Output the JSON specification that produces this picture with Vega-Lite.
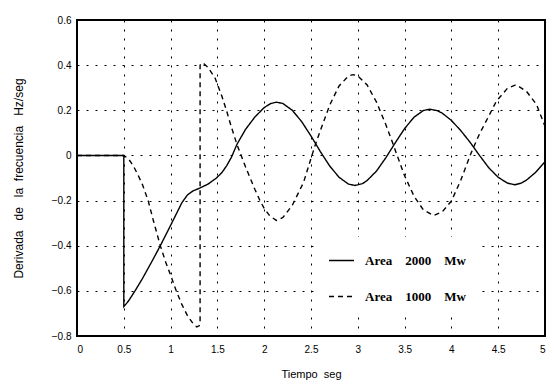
{
  "$schema": "https://vega.github.io/schema/vega-lite/v6.json",
  "width": 468,
  "height": 316,
  "autosize": {"type": "none"},
  "padding": {"left": 77, "top": 20, "right": 9, "bottom": 51},
  "background": "white",
  "config": {
    "view": {"stroke": "black", "strokeWidth": 2},
    "axis": {
      "domain": false,
      "ticks": false,
      "grid": true,
      "gridColor": "black",
      "gridOpacity": 1,
      "gridDash": [2, 7],
      "labelFont": "Liberation Sans",
      "labelFontSize": 10,
      "labelColor": "black",
      "titleFont": "Liberation Sans",
      "titleFontSize": 11,
      "titleFontWeight": "normal",
      "titleColor": "black"
    }
  },
  "datasets": {
    "curves": [
      {"s": "Area 2000 Mw", "i": 0, "x": 0, "y": 0},
      {"s": "Area 2000 Mw", "i": 1, "x": 0.5, "y": 0},
      {"s": "Area 2000 Mw", "i": 2, "x": 0.5, "y": -0.67},
      {"s": "Area 2000 Mw", "i": 3, "x": 0.55, "y": -0.645},
      {"s": "Area 2000 Mw", "i": 4, "x": 0.62, "y": -0.6},
      {"s": "Area 2000 Mw", "i": 5, "x": 0.7, "y": -0.545},
      {"s": "Area 2000 Mw", "i": 6, "x": 0.8, "y": -0.47},
      {"s": "Area 2000 Mw", "i": 7, "x": 0.89, "y": -0.4},
      {"s": "Area 2000 Mw", "i": 8, "x": 1.0, "y": -0.31},
      {"s": "Area 2000 Mw", "i": 9, "x": 1.06, "y": -0.26},
      {"s": "Area 2000 Mw", "i": 10, "x": 1.12, "y": -0.21},
      {"s": "Area 2000 Mw", "i": 11, "x": 1.18, "y": -0.175},
      {"s": "Area 2000 Mw", "i": 12, "x": 1.24, "y": -0.157},
      {"s": "Area 2000 Mw", "i": 13, "x": 1.31, "y": -0.145},
      {"s": "Area 2000 Mw", "i": 14, "x": 1.4, "y": -0.127},
      {"s": "Area 2000 Mw", "i": 15, "x": 1.49, "y": -0.1},
      {"s": "Area 2000 Mw", "i": 16, "x": 1.55, "y": -0.075},
      {"s": "Area 2000 Mw", "i": 17, "x": 1.6, "y": -0.045},
      {"s": "Area 2000 Mw", "i": 18, "x": 1.65, "y": -0.008},
      {"s": "Area 2000 Mw", "i": 19, "x": 1.71, "y": 0.05},
      {"s": "Area 2000 Mw", "i": 20, "x": 1.8, "y": 0.115},
      {"s": "Area 2000 Mw", "i": 21, "x": 1.9, "y": 0.17},
      {"s": "Area 2000 Mw", "i": 22, "x": 2.0, "y": 0.212},
      {"s": "Area 2000 Mw", "i": 23, "x": 2.07, "y": 0.23},
      {"s": "Area 2000 Mw", "i": 24, "x": 2.13, "y": 0.236},
      {"s": "Area 2000 Mw", "i": 25, "x": 2.2, "y": 0.23},
      {"s": "Area 2000 Mw", "i": 26, "x": 2.3, "y": 0.2},
      {"s": "Area 2000 Mw", "i": 27, "x": 2.4, "y": 0.15},
      {"s": "Area 2000 Mw", "i": 28, "x": 2.5, "y": 0.086},
      {"s": "Area 2000 Mw", "i": 29, "x": 2.6, "y": 0.017},
      {"s": "Area 2000 Mw", "i": 30, "x": 2.7, "y": -0.047},
      {"s": "Area 2000 Mw", "i": 31, "x": 2.8, "y": -0.097},
      {"s": "Area 2000 Mw", "i": 32, "x": 2.9, "y": -0.127},
      {"s": "Area 2000 Mw", "i": 33, "x": 2.97, "y": -0.133},
      {"s": "Area 2000 Mw", "i": 34, "x": 3.05, "y": -0.125},
      {"s": "Area 2000 Mw", "i": 35, "x": 3.1, "y": -0.111},
      {"s": "Area 2000 Mw", "i": 36, "x": 3.2, "y": -0.069},
      {"s": "Area 2000 Mw", "i": 37, "x": 3.3, "y": -0.01},
      {"s": "Area 2000 Mw", "i": 38, "x": 3.4, "y": 0.056},
      {"s": "Area 2000 Mw", "i": 39, "x": 3.5, "y": 0.119},
      {"s": "Area 2000 Mw", "i": 40, "x": 3.6, "y": 0.169},
      {"s": "Area 2000 Mw", "i": 41, "x": 3.7, "y": 0.199},
      {"s": "Area 2000 Mw", "i": 42, "x": 3.77, "y": 0.205},
      {"s": "Area 2000 Mw", "i": 43, "x": 3.85, "y": 0.198},
      {"s": "Area 2000 Mw", "i": 44, "x": 3.9, "y": 0.188},
      {"s": "Area 2000 Mw", "i": 45, "x": 4.0, "y": 0.155},
      {"s": "Area 2000 Mw", "i": 46, "x": 4.1, "y": 0.11},
      {"s": "Area 2000 Mw", "i": 47, "x": 4.2, "y": 0.058},
      {"s": "Area 2000 Mw", "i": 48, "x": 4.3, "y": 0.0},
      {"s": "Area 2000 Mw", "i": 49, "x": 4.4, "y": -0.055},
      {"s": "Area 2000 Mw", "i": 50, "x": 4.5, "y": -0.097},
      {"s": "Area 2000 Mw", "i": 51, "x": 4.6, "y": -0.123},
      {"s": "Area 2000 Mw", "i": 52, "x": 4.68, "y": -0.13},
      {"s": "Area 2000 Mw", "i": 53, "x": 4.75, "y": -0.122},
      {"s": "Area 2000 Mw", "i": 54, "x": 4.8, "y": -0.11},
      {"s": "Area 2000 Mw", "i": 55, "x": 4.9, "y": -0.075},
      {"s": "Area 2000 Mw", "i": 56, "x": 5.0, "y": -0.028},
      {"s": "Area 1000 Mw", "i": 0, "x": 0, "y": 0},
      {"s": "Area 1000 Mw", "i": 1, "x": 0.5, "y": 0},
      {"s": "Area 1000 Mw", "i": 2, "x": 0.55, "y": -0.015},
      {"s": "Area 1000 Mw", "i": 3, "x": 0.6, "y": -0.045},
      {"s": "Area 1000 Mw", "i": 4, "x": 0.65, "y": -0.085},
      {"s": "Area 1000 Mw", "i": 5, "x": 0.7, "y": -0.13},
      {"s": "Area 1000 Mw", "i": 6, "x": 0.76, "y": -0.2},
      {"s": "Area 1000 Mw", "i": 7, "x": 0.82, "y": -0.295},
      {"s": "Area 1000 Mw", "i": 8, "x": 0.89, "y": -0.4},
      {"s": "Area 1000 Mw", "i": 9, "x": 0.95, "y": -0.475},
      {"s": "Area 1000 Mw", "i": 10, "x": 1.0, "y": -0.53},
      {"s": "Area 1000 Mw", "i": 11, "x": 1.06, "y": -0.6},
      {"s": "Area 1000 Mw", "i": 12, "x": 1.12, "y": -0.66},
      {"s": "Area 1000 Mw", "i": 13, "x": 1.18, "y": -0.71},
      {"s": "Area 1000 Mw", "i": 14, "x": 1.24, "y": -0.745},
      {"s": "Area 1000 Mw", "i": 15, "x": 1.28, "y": -0.76},
      {"s": "Area 1000 Mw", "i": 16, "x": 1.305, "y": -0.755},
      {"s": "Area 1000 Mw", "i": 17, "x": 1.315, "y": -0.74},
      {"s": "Area 1000 Mw", "i": 18, "x": 1.315, "y": 0.4},
      {"s": "Area 1000 Mw", "i": 19, "x": 1.33, "y": 0.41},
      {"s": "Area 1000 Mw", "i": 20, "x": 1.36, "y": 0.405},
      {"s": "Area 1000 Mw", "i": 21, "x": 1.4, "y": 0.39},
      {"s": "Area 1000 Mw", "i": 22, "x": 1.475, "y": 0.343},
      {"s": "Area 1000 Mw", "i": 23, "x": 1.55, "y": 0.26},
      {"s": "Area 1000 Mw", "i": 24, "x": 1.6, "y": 0.195},
      {"s": "Area 1000 Mw", "i": 25, "x": 1.65, "y": 0.125},
      {"s": "Area 1000 Mw", "i": 26, "x": 1.71, "y": 0.047},
      {"s": "Area 1000 Mw", "i": 27, "x": 1.8, "y": -0.05},
      {"s": "Area 1000 Mw", "i": 28, "x": 1.9, "y": -0.15},
      {"s": "Area 1000 Mw", "i": 29, "x": 1.955, "y": -0.2},
      {"s": "Area 1000 Mw", "i": 30, "x": 2.0, "y": -0.235},
      {"s": "Area 1000 Mw", "i": 31, "x": 2.06, "y": -0.268},
      {"s": "Area 1000 Mw", "i": 32, "x": 2.13, "y": -0.288},
      {"s": "Area 1000 Mw", "i": 33, "x": 2.2, "y": -0.275},
      {"s": "Area 1000 Mw", "i": 34, "x": 2.3, "y": -0.221},
      {"s": "Area 1000 Mw", "i": 35, "x": 2.42, "y": -0.12},
      {"s": "Area 1000 Mw", "i": 36, "x": 2.5, "y": -0.013},
      {"s": "Area 1000 Mw", "i": 37, "x": 2.54, "y": 0.04},
      {"s": "Area 1000 Mw", "i": 38, "x": 2.6, "y": 0.11},
      {"s": "Area 1000 Mw", "i": 39, "x": 2.7, "y": 0.223},
      {"s": "Area 1000 Mw", "i": 40, "x": 2.8, "y": 0.308},
      {"s": "Area 1000 Mw", "i": 41, "x": 2.9, "y": 0.352},
      {"s": "Area 1000 Mw", "i": 42, "x": 2.95, "y": 0.358},
      {"s": "Area 1000 Mw", "i": 43, "x": 3.0, "y": 0.353},
      {"s": "Area 1000 Mw", "i": 44, "x": 3.1, "y": 0.312},
      {"s": "Area 1000 Mw", "i": 45, "x": 3.2, "y": 0.236},
      {"s": "Area 1000 Mw", "i": 46, "x": 3.3, "y": 0.136},
      {"s": "Area 1000 Mw", "i": 47, "x": 3.38, "y": 0.047},
      {"s": "Area 1000 Mw", "i": 48, "x": 3.4, "y": 0.023},
      {"s": "Area 1000 Mw", "i": 49, "x": 3.5, "y": -0.09},
      {"s": "Area 1000 Mw", "i": 50, "x": 3.6, "y": -0.18},
      {"s": "Area 1000 Mw", "i": 51, "x": 3.7, "y": -0.241},
      {"s": "Area 1000 Mw", "i": 52, "x": 3.81, "y": -0.266},
      {"s": "Area 1000 Mw", "i": 53, "x": 3.9, "y": -0.251},
      {"s": "Area 1000 Mw", "i": 54, "x": 4.0, "y": -0.202},
      {"s": "Area 1000 Mw", "i": 55, "x": 4.1, "y": -0.11},
      {"s": "Area 1000 Mw", "i": 56, "x": 4.2, "y": 0.0},
      {"s": "Area 1000 Mw", "i": 57, "x": 4.245, "y": 0.044},
      {"s": "Area 1000 Mw", "i": 58, "x": 4.3, "y": 0.095},
      {"s": "Area 1000 Mw", "i": 59, "x": 4.4, "y": 0.175},
      {"s": "Area 1000 Mw", "i": 60, "x": 4.48, "y": 0.24},
      {"s": "Area 1000 Mw", "i": 61, "x": 4.6, "y": 0.298},
      {"s": "Area 1000 Mw", "i": 62, "x": 4.69, "y": 0.313},
      {"s": "Area 1000 Mw", "i": 63, "x": 4.8, "y": 0.285},
      {"s": "Area 1000 Mw", "i": 64, "x": 4.91, "y": 0.225},
      {"s": "Area 1000 Mw", "i": 65, "x": 4.98, "y": 0.15},
      {"s": "Area 1000 Mw", "i": 66, "x": 5.0, "y": 0.128}
    ],
    "one": [{"k": 1}]
  },
  "layer": [
    {
      "data": {"name": "curves"},
      "mark": {"type": "line", "color": "black", "strokeWidth": 1.4},
      "encoding": {
        "x": {
          "field": "x",
          "type": "quantitative",
          "scale": {"domain": [0, 5], "nice": false, "zero": false},
          "axis": {
            "values": [0, 0.5, 1, 1.5, 2, 2.5, 3, 3.5, 4, 4.5, 5],
            "format": "~g",
            "labelPadding": 8,
            "title": "Tiempo\u00a0\u00a0seg",
            "titlePadding": 14
          }
        },
        "y": {
          "field": "y",
          "type": "quantitative",
          "scale": {"domain": [-0.8, 0.6], "nice": false, "zero": false},
          "axis": {
            "values": [-0.8, -0.6, -0.4, -0.2, 0, 0.2, 0.4, 0.6],
            "format": "~g",
            "labelPadding": 6,
            "title": "Derivada\u00a0\u00a0\u00a0de\u00a0\u00a0\u00a0la\u00a0\u00a0frecuencia\u00a0\u00a0\u00a0Hz/seg",
            "titleFontSize": 12,
            "titleX": -52
          }
        },
        "strokeDash": {
          "field": "s",
          "type": "nominal",
          "scale": {"domain": ["Area 2000 Mw", "Area 1000 Mw"], "range": [[1, 0], [5, 4]]},
          "legend": {
            "title": null,
            "orient": "none",
            "legendX": 241,
            "legendY": 217,
            "fillColor": "white",
            "padding": 10,
            "symbolType": "stroke",
            "symbolSize": 625,
            "symbolStrokeColor": "black",
            "symbolStrokeWidth": 1.4,
            "labelFont": "Liberation Serif",
            "labelFontWeight": "bold",
            "labelFontSize": 13,
            "labelColor": "black",
            "labelOffset": 10,
            "rowPadding": 15,
            "labelExpr": "replace(datum.label, / /g, '\u00a0\u00a0\u00a0\u00a0')"
          }
        },
        "order": {"field": "i", "type": "quantitative"}
      }
    },
    {
      "data": {"name": "one"},
      "mark": {"type": "rule", "color": "black", "strokeWidth": 2},
      "encoding": {"x": {"datum": 0, "type": "quantitative"}}
    },
    {
      "data": {"name": "one"},
      "mark": {"type": "rule", "color": "black", "strokeWidth": 2},
      "encoding": {"x": {"datum": 5, "type": "quantitative"}}
    },
    {
      "data": {"name": "one"},
      "mark": {"type": "rule", "color": "black", "strokeWidth": 2},
      "encoding": {"y": {"datum": 0.6, "type": "quantitative"}}
    },
    {
      "data": {"name": "one"},
      "mark": {"type": "rule", "color": "black", "strokeWidth": 2},
      "encoding": {"y": {"datum": -0.8, "type": "quantitative"}}
    }
  ]
}
